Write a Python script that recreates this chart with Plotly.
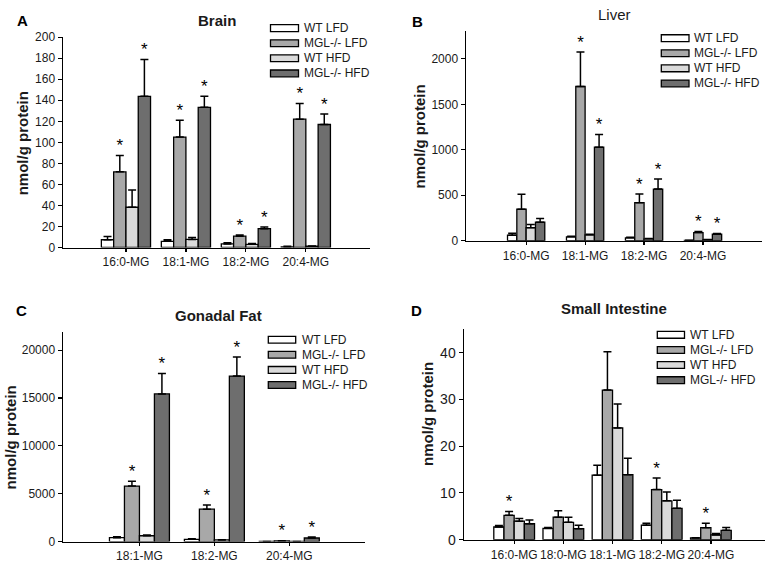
import plotly.graph_objects as go

# ---------------- data ----------------
series_names = ["WT LFD", "MGL-/- LFD", "WT HFD", "MGL-/- HFD"]

brain_cats = ["16:0-MG", "18:1-MG", "18:2-MG", "20:4-MG"]
brain_wt_lfd = [7.4, 5.9, 3.4, 0.6]
brain_wt_lfd_err = [3.1, 1.5, 1.2, 0.6]
brain_mgl_lfd = [72, 105, 10.8, 122]
brain_mgl_lfd_err = [15.6, 16, 1.2, 15]
brain_wt_hfd = [38.3, 7.7, 3.0, 1.2]
brain_wt_hfd_err = [16.3, 1.9, 0.7, 0.3]
brain_mgl_hfd = [143.8, 133.3, 17.9, 117]
brain_mgl_hfd_err = [34.9, 10.5, 1.5, 10]
brain_stars = [[0, 0, 0, 0], [1, 1, 1, 1], [0, 0, 0, 0], [1, 1, 1, 1]]

liver_cats = ["16:0-MG", "18:1-MG", "18:2-MG", "20:4-MG"]
liver_wt_lfd = [61, 43, 32, 3]
liver_wt_lfd_err = [21, 7, 7, 1]
liver_mgl_lfd = [346, 1696, 418, 89]
liver_mgl_lfd_err = [165, 379, 96, 11]
liver_wt_hfd = [143, 64, 21, 11]
liver_wt_hfd_err = [36, 7, 4, 1]
liver_mgl_hfd = [204, 1029, 568, 71]
liver_mgl_hfd_err = [39, 139, 111, 8]
liver_stars = [[0, 0, 0, 0], [0, 1, 1, 1], [0, 0, 0, 0], [0, 1, 1, 1]]

fat_cats = ["18:1-MG", "18:2-MG", "20:4-MG"]
fat_wt_lfd = [407, 237, 10]
fat_wt_lfd_err = [100, 68, 5]
fat_mgl_lfd = [5797, 3390, 68]
fat_mgl_lfd_err = [508, 440, 30]
fat_wt_hfd = [610, 170, 10]
fat_wt_hfd_err = [68, 30, 5]
fat_mgl_hfd = [15424, 17290, 373]
fat_mgl_hfd_err = [2136, 2000, 100]
fat_stars = [[0, 0, 0], [1, 1, 1], [0, 0, 0], [1, 1, 1]]

si_cats = ["16:0-MG", "18:0-MG", "18:1-MG", "18:2-MG", "20:4-MG"]
si_wt_lfd = [2.7, 2.4, 13.8, 3.1, 0.35]
si_wt_lfd_err = [0.3, 0.2, 2.1, 0.4, 0.05]
si_mgl_lfd = [5.2, 4.8, 32.0, 10.7, 2.55]
si_mgl_lfd_err = [0.8, 1.4, 8.2, 2.5, 0.95]
si_wt_hfd = [3.95, 3.7, 23.9, 8.3, 1.0]
si_wt_hfd_err = [0.55, 1.1, 5.1, 1.9, 0.3]
si_mgl_hfd = [3.4, 2.35, 13.9, 6.7, 2.0]
si_mgl_hfd_err = [0.8, 0.75, 3.5, 1.7, 0.6]
si_stars = [[0, 0, 0, 0, 0], [1, 0, 0, 1, 1], [0, 0, 0, 0, 0], [0, 0, 0, 0, 0]]

# ---------------- styling ----------------
colors = ["#ffffff", "#a8a8a8", "#dadada", "#6e6e6e"]
FONT = "Liberation Sans, Arial, sans-serif"
TXT = "#1a1a1a"
W, H = 768, 571

panels = [
    dict(key="", title="Brain", bold=True, letter="A", cats=brain_cats,
         vals=[brain_wt_lfd, brain_mgl_lfd, brain_wt_hfd, brain_mgl_hfd],
         errs=[brain_wt_lfd_err, brain_mgl_lfd_err, brain_wt_hfd_err, brain_mgl_hfd_err],
         stars=brain_stars, barw=0.205,
         xpx=(63, 370), ypx=(31, 247), xr=(-1.05, 4.07), yr=(0, 200), dtick=20,
         tickfs=12, legend_box=(270.5, 298.5, 303, 21.7),
         title_px=(217, 14), letter_px=(22, 14), ytitle_px=(22, 140)),
    dict(key="2", title="Liver", bold=False, letter="B", cats=liver_cats,
         vals=[liver_wt_lfd, liver_mgl_lfd, liver_wt_hfd, liver_mgl_hfd],
         errs=[liver_wt_lfd_err, liver_mgl_lfd_err, liver_wt_hfd_err, liver_mgl_hfd_err],
         stars=liver_stars, barw=0.158,
         xpx=(466, 762), ypx=(25, 240), xr=(-1.02, 4.0), yr=(0, 2303), dtick=500,
         tickfs=12, legend_box=(661.3, 689, 692.5, 32),
         title_px=(614, 8), letter_px=(417, 15), ytitle_px=(420, 133)),
    dict(key="3", title="Gonadal Fat", bold=True, letter="C", cats=fat_cats,
         vals=[fat_wt_lfd, fat_mgl_lfd, fat_wt_hfd, fat_mgl_hfd],
         errs=[fat_wt_lfd_err, fat_mgl_lfd_err, fat_wt_hfd_err, fat_mgl_hfd_err],
         stars=fat_stars, barw=0.2,
         xpx=(63, 365), ypx=(334, 549), xr=(-1.02, 3.01), yr=(0, 21870), dtick=5000,
         tickfs=12, legend_box=(268.3, 295.7, 300.5, 341.7),
         title_px=(218, 317), letter_px=(21, 312), ytitle_px=(10, 442)),
    dict(key="4", title="Small Intestine", bold=True, letter="D", cats=si_cats,
         vals=[si_wt_lfd, si_mgl_lfd, si_wt_hfd, si_mgl_hfd],
         errs=[si_wt_lfd_err, si_mgl_lfd_err, si_wt_hfd_err, si_mgl_hfd_err],
         stars=si_stars, barw=0.207,
         xpx=(464, 765), ypx=(331, 547), xr=(-1.02, 5.1), yr=(0, 45), dtick=10,
         tickfs=14, legend_box=(657.3, 684.5, 688.5, 336.7),
         title_px=(614, 310), letter_px=(416, 312), ytitle_px=(427, 418)),
]

ROW = 15.5


def fx(x):
    return x / W


def fy(y):
    return (H - y) / H


fig = go.Figure()
layout = dict(width=W, height=H, margin=dict(l=0, r=0, t=0, b=0),
              paper_bgcolor="white", plot_bgcolor="white",
              font=dict(family=FONT, color=TXT), barmode="overlay",
              showlegend=False, annotations=[], shapes=[])

for p in panels:
    k = p["key"]
    xa, ya = "x" + k, "y" + k
    n = len(p["cats"])
    for s in range(4):
        off = (s - 1.5) * p["barw"]
        xs = [i + off for i in range(n)]
        fig.add_trace(go.Bar(
            x=xs, y=p["vals"][s], width=p["barw"], name=series_names[s],
            marker=dict(color=colors[s], line=dict(color="black", width=1.3)),
            error_y=dict(type="data", symmetric=False, array=p["errs"][s],
                         arrayminus=[0] * n, color="black", thickness=1.5, width=4),
            xaxis=xa, yaxis=ya,
        ))
    for s in range(4):
        off = (s - 1.5) * p["barw"]
        sx = [i + off for i in range(n) if p["stars"][s][i]]
        sy = [p["vals"][s][i] + p["errs"][s][i] for i in range(n) if p["stars"][s][i]]
        if sx:
            fig.add_trace(go.Scatter(
                x=sx, y=sy, mode="text", text=["*"] * len(sx),
                textposition="top center", textfont=dict(size=17, color="black", family=FONT),
                xaxis=xa, yaxis=ya, hoverinfo="skip"))

    x0, x1 = p["xpx"]
    yt, yb = p["ypx"]
    layout["xaxis" + k] = dict(
        domain=[fx(x0), fx(x1)], range=list(p["xr"]), anchor=ya,
        tickmode="array", tickvals=list(range(n)), ticktext=p["cats"],
        ticks="outside", ticklen=3, tickwidth=1.2, tickcolor="black",
        showline=True, linecolor="black", linewidth=1.5, showgrid=False,
        zeroline=False, tickfont=dict(size=12, color=TXT, family=FONT),
        fixedrange=True)
    layout["yaxis" + k] = dict(
        domain=[fy(yb), fy(yt)], range=list(p["yr"]), anchor=xa,
        tickmode="linear", tick0=0, dtick=p["dtick"], tickformat="d",
        ticks="outside", ticklen=4, tickwidth=1.2, tickcolor="black",
        showline=True, linecolor="black", linewidth=1.5, showgrid=False,
        zeroline=False, tickfont=dict(size=p["tickfs"], color=TXT, family=FONT),
        fixedrange=True)

    # legend (boxes + labels, as in the original figure)
    bx0, bx1, tx0, ry0 = p["legend_box"]
    for s in range(4):
        ry = ry0 + s * ROW
        layout["shapes"].append(dict(
            type="rect", xref="paper", yref="paper",
            x0=fx(bx0), x1=fx(bx1), y0=fy(ry + 3.5), y1=fy(ry - 3.5),
            fillcolor=colors[s], line=dict(color="black", width=1.3)))
        layout["annotations"].append(dict(
            x=fx(tx0), y=fy(ry), xref="paper", yref="paper", text=series_names[s],
            showarrow=False, xanchor="left", yanchor="middle", borderpad=0,
            font=dict(size=12, color=TXT, family=FONT)))

    tx, ty = p["title_px"]
    ttl = "<b>%s</b>" % p["title"] if p["bold"] else p["title"]
    layout["annotations"].append(dict(
        x=fx(tx), y=fy(ty), xref="paper", yref="paper", text=ttl,
        showarrow=False, font=dict(size=15, color=TXT, family=FONT),
        xanchor="center", yanchor="middle"))
    lx2, ly2 = p["letter_px"]
    layout["annotations"].append(dict(
        x=fx(lx2), y=fy(ly2), xref="paper", yref="paper",
        text="<b>%s</b>" % p["letter"], showarrow=False,
        font=dict(size=15, color="black", family=FONT),
        xanchor="center", yanchor="middle"))
    yx, yy = p["ytitle_px"]
    layout["annotations"].append(dict(
        x=fx(yx), y=fy(yy), xref="paper", yref="paper",
        text="<b>nmol/g protein</b>", textangle=-90, showarrow=False,
        font=dict(size=15, color=TXT, family=FONT),
        xanchor="center", yanchor="middle"))

fig.update_layout(**layout)
fig.write_html("out.html",
               config={"displayModeBar": False, "staticPlot": True},
               post_script="document.body.style.margin='0';document.body.style.overflow='hidden';")
